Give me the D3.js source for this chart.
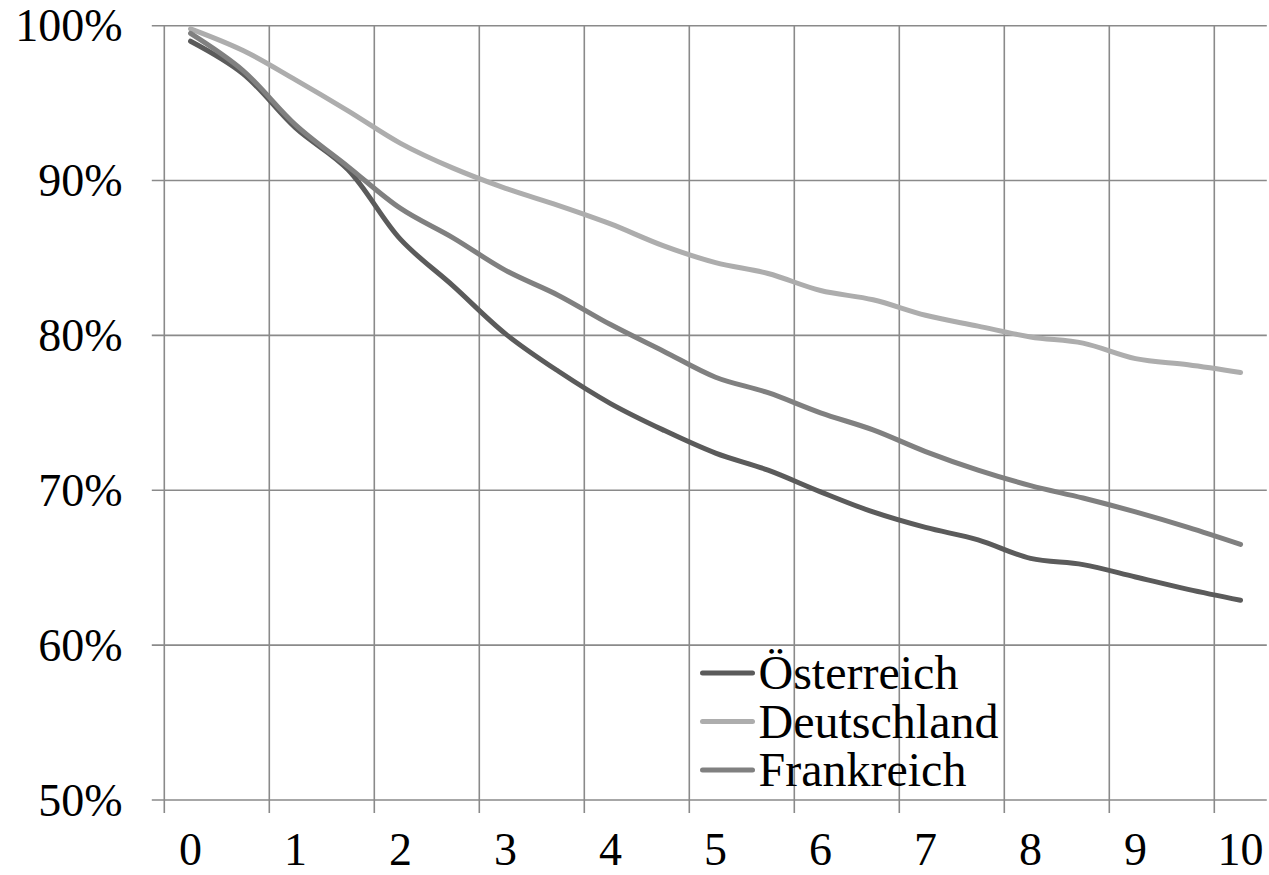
<!DOCTYPE html>
<html>
<head>
<meta charset="utf-8">
<script src="https://cdn.jsdelivr.net/npm/d3@7"></script>
<style>
  html, body { margin: 0; padding: 0; background: #fff; }
  svg { display: block; }
  text { font-family: "Liberation Serif", "Times New Roman", serif; fill: #000; }
</style>
</head>
<body>
<svg id="chart" width="1269" height="875"></svg>
<script>
// Half-year periods (years since start)
const periods = [0, 0.5, 1, 1.5, 2, 2.5, 3, 3.5, 4, 4.5, 5, 5.5, 6, 6.5, 7, 7.5, 8, 8.5, 9, 9.5, 10];

// Labelled years on the horizontal axis
const yearLabels = [0, 1, 2, 3, 4, 5, 6, 7, 8, 9, 10];

// Percentage ticks on the vertical axis
const percentTicks = [50, 60, 70, 80, 90, 100];

// Remaining share (%) per period
const oesterreich = [99.0, 96.9, 93.4, 90.7, 86.2, 83.2, 80.1, 77.7, 75.6, 73.9, 72.4,
                     71.3, 69.9, 68.6, 67.6, 66.8, 65.6, 65.2, 64.4, 63.6, 62.9];
const deutschland = [99.8, 98.4, 96.5, 94.5, 92.4, 90.8, 89.5, 88.4, 87.2, 85.8, 84.7,
                     84.0, 82.9, 82.3, 81.3, 80.6, 79.9, 79.5, 78.5, 78.1, 77.6];
const frankreich  = [99.5, 97.1, 93.6, 90.9, 88.2, 86.3, 84.2, 82.6, 80.7, 79.0, 77.3,
                     76.3, 75.0, 73.9, 72.5, 71.3, 70.3, 69.5, 68.6, 67.6, 66.5];

const seriesNames = ["Österreich", "Deutschland", "Frankreich"];
const seriesValues = [oesterreich, deutschland, frankreich];
const seriesColors = ["#5b5b5b", "#adadad", "#808080"];

const svg = d3.select("#chart");

const plot = { left: 164.3, right: 1266.8, top: 25.7, bottom: 800 };

const x = d3.scaleBand()
  .domain(periods)
  .range([plot.left, plot.right])
  .paddingInner(0)
  .paddingOuter(0);

const y = d3.scaleLinear()
  .domain([50, 100])
  .range([plot.bottom, plot.top]);

const gridColor = "#8a8a8a";
const tickLen = 12.5;

// Horizontal gridlines with short outer ticks
svg.append("g")
  .selectAll("line")
  .data(percentTicks)
  .join("line")
  .attr("x1", plot.left - tickLen)
  .attr("x2", plot.right)
  .attr("y1", d => y(d))
  .attr("y2", d => y(d))
  .attr("stroke", gridColor)
  .attr("stroke-width", 1.6);

// Vertical gridlines at the boundary before every whole year
svg.append("g")
  .selectAll("line")
  .data(yearLabels)
  .join("line")
  .attr("x1", d => x(d))
  .attr("x2", d => x(d))
  .attr("y1", plot.top)
  .attr("y2", plot.bottom + tickLen + 0.5)
  .attr("stroke", gridColor)
  .attr("stroke-width", 1.6);

// Vertical axis labels
svg.append("g")
  .selectAll("text")
  .data(percentTicks)
  .join("text")
  .attr("x", 122.5)
  .attr("y", d => y(d) + 15.6)
  .attr("text-anchor", "end")
  .attr("font-size", 46)
  .text(d => d + "%");

// Horizontal axis labels, centred on their period
svg.append("g")
  .selectAll("text")
  .data(yearLabels)
  .join("text")
  .attr("x", d => x(d) + x.bandwidth() / 2)
  .attr("y", 865)
  .attr("text-anchor", "middle")
  .attr("font-size", 46)
  .text(d => String(d));

// Series lines
const line = d3.line()
  .x((d, i) => x(periods[i]) + x.bandwidth() / 2)
  .y(d => y(d))
  .curve(d3.curveCatmullRom.alpha(0.5));

svg.append("g")
  .selectAll("path")
  .data(seriesValues)
  .join("path")
  .attr("d", d => line(d))
  .attr("fill", "none")
  .attr("stroke", (d, i) => seriesColors[i])
  .attr("stroke-width", 5)
  .attr("stroke-linejoin", "round")
  .attr("stroke-linecap", "round");

// Legend
const legendRows = svg.append("g")
  .selectAll("g")
  .data(seriesNames)
  .join("g")
  .attr("transform", (d, i) => `translate(0, ${689 + i * 48.5})`);

legendRows.append("line")
  .attr("x1", 702.5)
  .attr("x2", 752.5)
  .attr("y1", -16)
  .attr("y2", -16)
  .attr("stroke", (d, i) => seriesColors[i])
  .attr("stroke-width", 5)
  .attr("stroke-linecap", "round");

legendRows.append("text")
  .attr("x", 758.5)
  .attr("y", 0)
  .attr("font-size", 48)
  .text(d => d);
</script>
</body>
</html>
